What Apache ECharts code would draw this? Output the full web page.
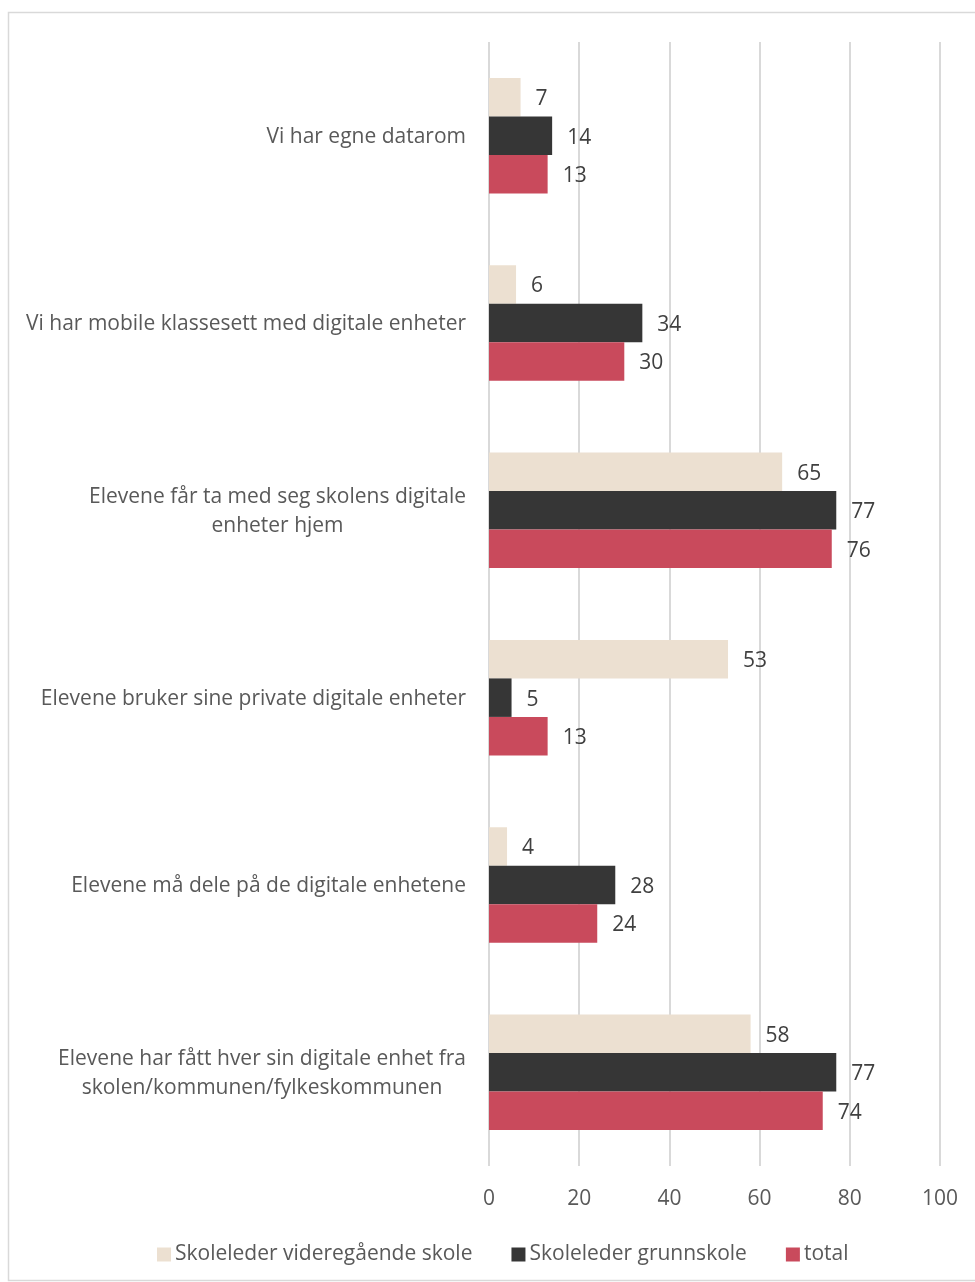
<!DOCTYPE html>
<html>
<head>
<meta charset="utf-8">
<script src="https://cdn.jsdelivr.net/npm/echarts@6/dist/echarts.min.js"></script>
<style>
html,body{margin:0;padding:0;background:#fff;}
#c{width:975px;height:1282px;}
</style>
</head>
<body>
<div id="c"></div>
<script>
const categories = [
  "Vi har egne datarom",
  "Vi har mobile klassesett med digitale enheter",
  "Elevene får ta med seg skolens digitale\nenheter hjem",
  "Elevene bruker sine private digitale enheter",
  "Elevene må dele på de digitale enhetene",
  "Elevene har fått hver sin digitale enhet fra\nskolen/kommunen/fylkeskommunen"
];
const seriesNames = ["Skoleleder videregående skole", "Skoleleder grunnskole", "total"];
const vgs = [7, 6, 65, 53, 4, 58];
const grunnskole = [14, 34, 77, 5, 28, 77];
const total = [13, 30, 76, 13, 24, 74];
const xTicks = [0, 20, 40, 60, 80, 100];

const colors = ["#ECE0D1", "#363636", "#C94A5C"];
const FONT = "Open Sans";
const FS = 21;
const chart = echarts.init(document.getElementById('c'), null, {renderer: 'canvas'});
const mk = (name, data, color) => ({
  name, type: 'bar', data, barWidth: 38.5, barGap: '0%',
  itemStyle: {color},
  label: {show: true, position: 'right', distance: 15, offset: [0, 2], color: '#404040', fontSize: FS, fontFamily: FONT}
});
chart.setOption({
  animation: false,
  textStyle: {fontFamily: FONT},
  graphic: [{type: 'rect', shape: {x: 8.5, y: 12.5, width: 1000, height: 1268}, style: {fill: 'none', stroke: '#d9d9d9', lineWidth: 1.5}, silent: true}],
  grid: {left: 489, right: 35, top: 42, bottom: 116},
  xAxis: {
    type: 'value', min: xTicks[0], max: xTicks[xTicks.length-1], interval: 20,
    axisLine: {show: false}, axisTick: {show: false},
    splitLine: {lineStyle: {color: '#d9d9d9', width: 2}},
    axisLabel: {color: '#595959', fontSize: FS, fontFamily: FONT, margin: 23}
  },
  yAxis: {
    type: 'category', data: categories, inverse: true,
    axisLine: {show: false}, axisTick: {show: false},
    axisLabel: {
      color: '#595959', fontSize: FS, fontFamily: FONT, margin: 23, lineHeight: 29, padding: [2, 0, 0, 0],
      formatter: v => v.split('\n').map(s => '{c|' + s + '}').join('\n'),
      rich: {c: {align: 'center', fontSize: FS, fontFamily: FONT, color: '#595959', lineHeight: 29}}
    }
  },
  legend: {
    bottom: 17, left: 157, icon: 'rect', itemWidth: 14, itemHeight: 14, itemGap: 39, padding: 0,
    textStyle: {color: '#595959', fontSize: FS, fontFamily: FONT, padding: [0,0,0,-1]},
    data: seriesNames
  },
  series: [mk(seriesNames[0], vgs, colors[0]), mk(seriesNames[1], grunnskole, colors[1]), mk(seriesNames[2], total, colors[2])]
});
</script>
</body>
</html>
